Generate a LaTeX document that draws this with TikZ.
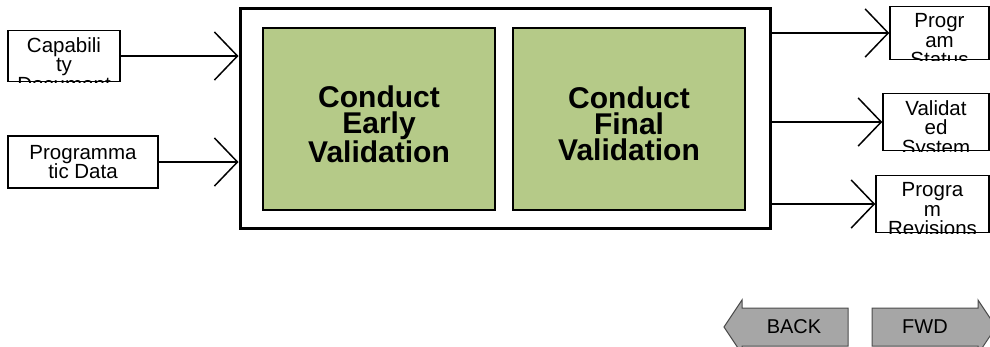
\documentclass[tikz,border=0pt]{standalone}
\usepackage{fontspec}
\setmainfont{Liberation Sans}
\usetikzlibrary{arrows.meta,positioning}
\definecolor{stagegreen}{HTML}{B5CA88}

\begin{document}
\begin{tikzpicture}[
  x=1pt, y=-1pt,
  frame/.style={draw, line width=3pt, minimum width=530pt, minimum height=220pt},
  stage/.style={draw, line width=2pt, fill=stagegreen, minimum width=232pt, minimum height=182pt},
  stagetext/.style={align=center, font=\bfseries\fontsize{30}{26}\selectfont},
  iobox/.style={draw, line width=1.5pt, fill=white},
  iotext/.style={align=center, font=\fontsize{20.5}{19.5}\selectfont, inner xsep=2pt, inner ysep=7.5pt},
  arrow/.style={-{Straight Barb[length=23pt, width=48pt]}, line width=1.5pt},
  btn/.style={draw=black!70, line width=1pt, fill=black!35},
  btntext/.style={font=\fontsize{20}{22}\selectfont}
]
\useasboundingbox (0,0) rectangle (990,346);
\clip (0,0) rectangle (990,346);

% main activity
\node[frame] (validate) at (505,118) {};
\node[stage] (early) at (379,119) {};
\node[stage, right=16pt of early] (final) {};
\node[stagetext] (earlytext) at ([yshift=-5pt]early.center) {Conduct\\Early\\Validation};
\node[stagetext] (finaltext) at ([yshift=-5pt]final.center) {Conduct\\Final\\Validation};

% inputs
\node[iobox, minimum width=112pt, minimum height=51pt] (capdoc) at (64,56) {};
\begin{scope}
  \clip (capdoc.south west) rectangle (capdoc.north east);
  \node[iotext, anchor=north] (capdoctext) at (capdoc.north) {Capabili\\ty\\Document};
\end{scope}
\node[iobox, iotext, inner ysep=4pt, minimum width=150pt, minimum height=52pt] (progdata) at (83,162) {Programma\\tic Data};

% outputs
\node[iobox, minimum width=99pt, minimum height=53pt] (status) at (939.5,33) {};
\begin{scope}
  \clip (status.south west) rectangle (status.north east);
  \node[iotext, anchor=north] (statustext) at (status.north) {Progr\\am\\Status};
\end{scope}
\node[iobox, minimum width=106pt, minimum height=57pt] (valsys) at (936,122) {};
\begin{scope}
  \clip (valsys.south west) rectangle (valsys.north east);
  \node[iotext, anchor=north] (valsystext) at (valsys.north) {Validat\\ed\\System};
\end{scope}
\node[iobox, minimum width=113pt, minimum height=57pt] (revis) at (932.5,204) {};
\begin{scope}
  \clip (revis.south west) rectangle (revis.north east);
  \node[iotext, anchor=north] (revistext) at (revis.north) {Progra\\m\\Revisions};
\end{scope}

\draw[arrow] (capdoc.east) -- (validate.west |- capdoc.east);
\draw[arrow] (progdata.east) -- (validate.west |- progdata.east);
\draw[arrow] (validate.east |- status.west) -- (status.west);
\draw[arrow] (validate.east |- valsys.west) -- (valsys.west);
\draw[arrow] (validate.east |- revis.west) -- (revis.west);

% navigation buttons
\draw[btn] (724,327) -- (742,300) -- (742,308) -- (848,308) -- (848,346) -- (742,346) -- (742,354) -- cycle;
\node[btntext] (back) at (794,327) {BACK};
\draw[btn] (872,308) -- (978,308) -- (978,300) -- (996,327) -- (978,354) -- (978,346) -- (872,346) -- cycle;
\node[btntext] (fwd) at (925,327) {FWD};
\end{tikzpicture}
\end{document}
